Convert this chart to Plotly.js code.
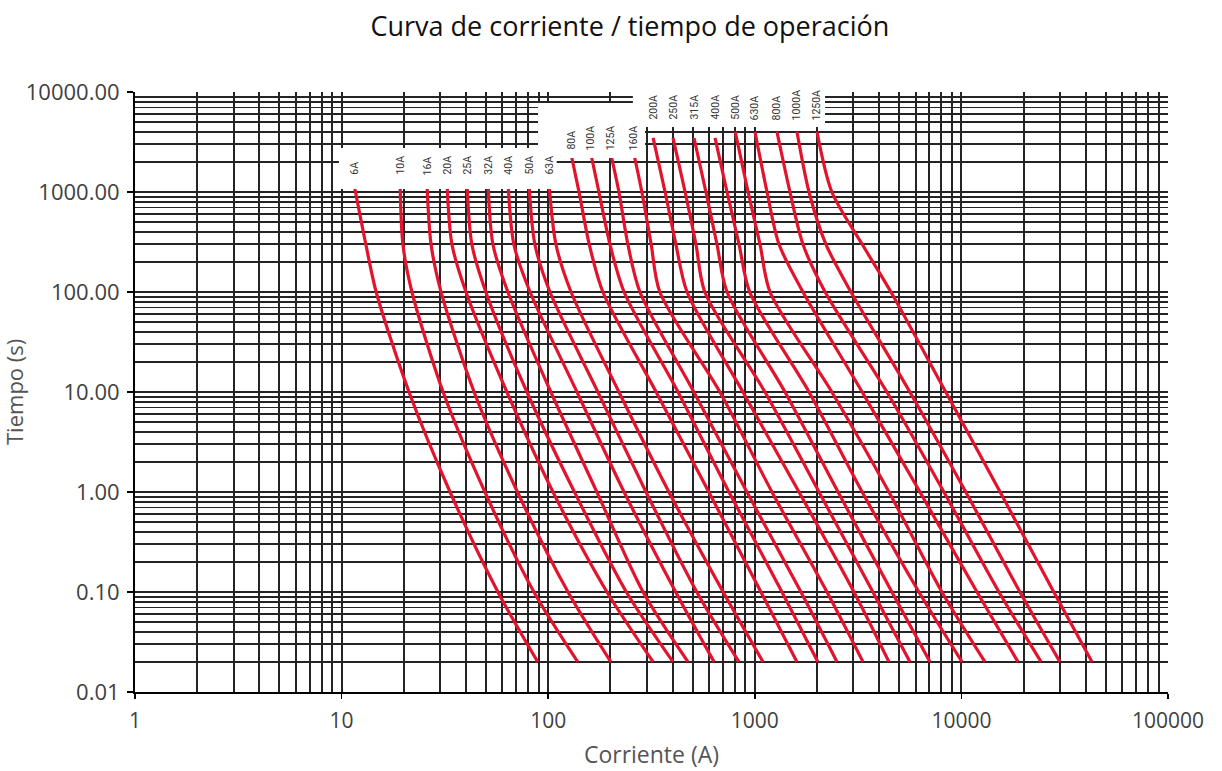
<!DOCTYPE html>
<html><head><meta charset="utf-8">
<script src="https://cdn.plot.ly/plotly-3.0.1.min.js"></script>
<style>html,body{margin:0;padding:0;background:#fff}#chart{width:1222px;height:771px}</style>
</head><body><div id="chart"></div>
<script>
// ---- data (currents in A, times in s) ----
const labels = ['6A','10A','16A','20A','25A','32A','40A','50A','63A','80A','100A','125A','160A','200A','250A','315A','400A','500A','630A','800A','1000A','1250A'];
const startTime = [1175,1175,1175,1175,1175,1175,1175,1175,1175,2400,2400,2400,2400,3470,3470,3470,3470,4000,4000,4000,4000,4000];
const startCurrent = [11.5,19.2,25.9,32.4,40.5,51.2,64.0,80.8,101,129,161,201,260,322,402,508,642,804,1002,1280,1600,2000];
const i1000 = [null,null,null,null,null,null,null,null,null,141,176,220,284,368,460,580,734,928,1146,1480,1830,2360];
const i300 = [13.1,19.8,27.1,34.2,42.7,54.0,68.2,86.2,109,158,199,243,315,415,519,656,839,1060,1310,1710,2210,3310];
const i100 = [14.7,21.9,30.3,40.0,49.9,63.8,81.7,102,129,184,233,278,347,470,573,734,945,1185,1711,2190,2920,4560];
const i10 = [21.2,31.0,43.8,63.1,78.9,103,137.8,174,220,333,425,507,678,876,1120,1400,1830,2360,3310,4360,5630,8400];
const i1 = [33.5,49.4,71.0,105.5,134,172,233,297.5,384,599,750,916,1211,1637,2045,2530,3310,4460,6300,8230,10500,15400];
const i01 = [57.1,85.3,124.7,192.5,239,288,414,524,703,1071,1354,1673,2236,3020,3730,4610,6230,8050,11900,15200,19200,28000];
const i002 = [89,139,201,322,402,475,635,838,1096,1600,2020,2500,3340,4460,5640,7050,10070,13000,18800,24300,30000,42900];
const levelTimes = [1000,300,100,10,1,0.1,0.02];
const labelTime = [1413,1413,1413,1413,1413,1413,1413,1413,1413,2512,2512,2512,2512,5012,5012,5012,5012,5012,5012,5012,5012,5012];

const xTickVals = [1,10,100,1000,10000,100000];
const xTickText = ['1','10','100','1000','10000','100000'];
const yTickVals = [0.01,0.1,1,10,100,1000,10000];
const yTickText = ['0.01','0.10','1.00','10.00','100.00','1000.00','10000.00'];

// minor grid values (2..9 per decade)
function minorVals(d0, d1){
  const out=[];
  for(let d=d0; d<d1; d++){ for(let k=2;k<=9;k++){ out.push(k*Math.pow(10,d)); } }
  return out;
}
const xMinor = minorVals(0,5);
const yMinor = minorVals(-2,4);

const RED = '#e2132d';
const traces = labels.map((lab,i)=>{
  const cols = [i1000[i], i300[i], i100[i], i10[i], i1[i], i01[i], i002[i]];
  const xs=[startCurrent[i]], ys=[startTime[i]];
  cols.forEach((v,j)=>{ if(v!==null && levelTimes[j] < startTime[i]){ xs.push(v); ys.push(levelTimes[j]); } });
  return {x:xs, y:ys, type:'scatter', mode:'lines', name:lab, showlegend:false,
          line:{color:RED, width:3.2, shape:'spline', smoothing:0.8}, hoverinfo:'skip'};
});

// white patches behind the rating labels, in A / s
const boxes = [
  {i0:9.71, i1:110, t0:1072, t1:2754},
  {i0:89.3, i1:294, t0:2188, t1:7762},
  {i0:257, i1:2188, t0:4467, t1:13000}
];
const px = v => Math.log10(v)/5;
const py = v => (Math.log10(v)+2)/6;
const shapes = boxes.map(b=>({type:'rect', xref:'paper', yref:'paper',
  x0:px(b.i0), x1:px(b.i1), y0:py(b.t0), y1:py(b.t1),
  fillcolor:'#ffffff', line:{width:0}, layer:'above'}));

const annotations = labels.map((lab,i)=>({
  text:lab, xref:'x', yref:'y', x:Math.log10(startCurrent[i]), y:Math.log10(labelTime[i]),
  xanchor:'center', yanchor:'bottom', textangle:-90, showarrow:false,
  font:{family:'Roboto, Arial, sans-serif', size:10.5, color:'#333'}
}));
annotations.push({text:'Tiempo (s)', xref:'paper', yref:'paper', x:0, y:0.5,
  xanchor:'center', yanchor:'middle', xshift:-121, textangle:-90, showarrow:false,
  font:{family:'Open Sans, sans-serif', size:22, color:'#555'}});

const GRID = '#242424';
const GW = 1.9;
const layout = {
  width:1222, height:771,
  margin:{l:135, r:54, t:92, b:79},
  paper_bgcolor:'#fff', plot_bgcolor:'#fff',
  title:{text:'Curva de corriente / tiempo de operación', xref:'container', yref:'container',
         x:0.5155, y:0.965, xanchor:'center', yanchor:'middle',
         font:{family:'Open Sans, sans-serif', size:27, color:'#111'}},
  xaxis:{type:'log', range:[0,5], tickmode:'array', tickvals:xTickVals, ticktext:xTickText,
         showgrid:true, gridcolor:GRID, gridwidth:GW, zeroline:false,
         minor:{tickmode:'array', tickvals:xMinor, showgrid:true, gridcolor:GRID, gridwidth:GW, ticks:''},
         showline:true, linecolor:'#000', linewidth:2, ticks:'outside', ticklen:5, tickcolor:'#000', tickwidth:1.5,
         ticklabelstandoff:4,
         tickfont:{family:'Open Sans, sans-serif', size:21, color:'#404040'},
         title:{text:'Corriente (A)', standoff:14, font:{family:'Open Sans, sans-serif', size:23, color:'#555'}}},
  yaxis:{type:'log', range:[-2,4], tickmode:'array', tickvals:yTickVals, ticktext:yTickText,
         showgrid:true, gridcolor:GRID, gridwidth:GW, zeroline:false,
         minor:{tickmode:'array', tickvals:yMinor, showgrid:true, gridcolor:GRID, gridwidth:GW, ticks:''},
         showline:true, linecolor:'#000', linewidth:2, ticks:'outside', ticklen:6, tickcolor:'#000', tickwidth:1.5,
         ticklabelstandoff:3,
         tickfont:{family:'Open Sans, sans-serif', size:22, color:'#404040'}},
  shapes:shapes,
  annotations:annotations,
  showlegend:false
};
Plotly.newPlot('chart', traces, layout, {staticPlot:true, displayModeBar:false});
</script>
</body></html>
